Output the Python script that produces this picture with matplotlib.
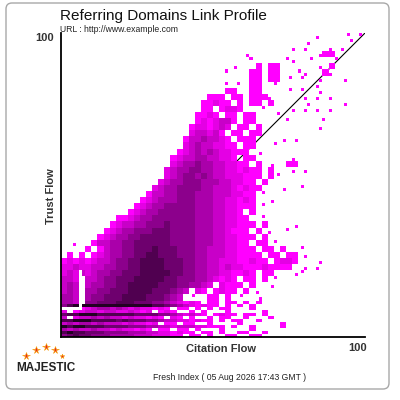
import numpy as np
import matplotlib
matplotlib.use('Agg')
import matplotlib.pyplot as plt
from matplotlib.colors import ListedColormap, BoundaryNorm
from matplotlib.patches import FancyBboxPatch

plt.rcParams['font.family'] = ['Liberation Sans', 'DejaVu Sans']

# density level per cell: '.' = no domains, 1 = few (magenta) ... 8 = many (near black)
# every cell is 2 Citation Flow wide; rows given as (first column, cells)
# upper block: 2 Trust Flow per row, from TF 98-100 down to TF 12-14
upper_rows = [
    (42, "1....1.1"),
    (40, "1......1"),
    (38, "1.1...1.1"),
    (30, "1...........111"),
    (31, "1.....11..1...1"),
    (28, "1...1.11......1.1"),
    (27, "1...11.11...11..11"),
    (31, "11.11.1.1..1...1"),
    (27, "1.1.11..1......1"),
    (27, "11..11....1.1..1"),
    (24, "111.11.1111.....1.1.1"),
    (23, "11211.1.11.1.....1.....1"),
    (23, "11.1221...1....1.1.1.1"),
    (22, "1121.11.11...1"),
    (22, "1212331.11.....1.....1"),
    (21, "1221232.11.1.........1"),
    (21, "233231.11.11"),
    (20, "13343321.111....1.1"),
    (20, "234332211.11...1"),
    (19, "123434322111.1"),
    (18, "12334433221.11......1"),
    (18, "2344544332211.1.1..11"),
    (17, "2344554433221211.1...1.1"),
    (17, "2345545433222111.11"),
    (16, "2344555444332211.1"),
    (15, "234455554433321211...1..1"),
    (14, "133445554443332211.1"),
    (13, "1234445554443322121..1"),
    (12, "12344555554443322111.1"),
    (11, "1234455555544433221.1"),
    (9, "1123445555555444332211..1"),
    (8, "123344555655554443322111.1....1"),
    (7, "123445556665555444332111.1.1..1"),
    (6, "12344556666655554443322111.1"),
    (2, "1..13344556666665555444332211.11.1"),
    (4, "1.13445566676665554433322111.11.1..1"),
    (1, "1.1.1234455667766655544333221111.11.11.1"),
    (0, "1212123345566777766655443322211211.1221...1"),
    (0, "22322334455667777666554433232211121111..1.1"),
    (0, "23232344556667777766554433221121.11...11"),
    (0, "332.3345566677777665554432121.11.1.1"),
    (0, "343.344556677777666554432.2111.1..1"),
    (0, "343.44556667777666543.21.1211.1.1"),
    (0, "443.4556667777666543.1..11.1.1..1"),
]

# bottom block: 1 Trust Flow per row, from TF 11-12 down to TF 0-1
bottom_rows = [
    (0, "443.5566677766655432121.11.11.1.1"),
    (0, "57888888888888877654321211.1.1.1"),
    (0, "...123443432322121.11.1.1.11...1"),
    (0, "2.1233233223212.121..1.1...1.....1"),
    (0, "677888777777666655432321.1211.11.1"),
    (0, "3.233434332322121.21.1..1.11..1...1"),
    (0, "7788877776766655433221211.1.11..1"),
    (0, "3434434333232212.11.11..1....1......1"),
    (0, "878877766665554433233322111.1..1....1"),
    (0, "434334332322121.11.11.1...1....1"),
    (0, "7877666555544433221211.11.1..11..1"),
    (0, "56766555444433322211.11.1..11..11"),
]

# empty vertical strip near the axis: (CF, TF from, TF to)
blank_strip = (6, 9, 22)

palette = ['#ff00ff', '#e400e4', '#c800c8', '#aa00aa', '#8c008c', '#6e006e', '#500050', '#230023']

# coarse upper grid, row 0 = TF 98-100
coarse = np.full((len(upper_rows), 50), np.nan)
for i, (start, cells) in enumerate(upper_rows):
    for j, ch in enumerate(cells):
        if ch != '.':
            coarse[i, start + j] = int(ch)

# 1x1 grid indexed [TF, CF]
fine = np.full((100, 100), np.nan)
filled = ~np.isnan(np.pad(coarse, 1, constant_values=np.nan))
for i in range(coarse.shape[0]):
    tf0 = 98 - 2 * i
    for c in range(50):
        v = coarse[i, c]
        if np.isnan(v):
            continue
        neighbours = filled[i:i + 3, c:c + 3].sum() - 1
        if v == 1 and neighbours < 3:
            # lone magenta cell: a single domain point
            fine[tf0 + c % 2, 2 * c + i % 2] = v
        else:
            fine[tf0:tf0 + 2, 2 * c:2 * c + 2] = v

for i, (start, cells) in enumerate(bottom_rows):
    tf = 11 - i
    for j, ch in enumerate(cells):
        if ch != '.':
            c = start + j
            fine[tf, 2 * c:2 * c + 2] = int(ch)

fine[blank_strip[1]:blank_strip[2], blank_strip[0]] = np.nan

cmap = ListedColormap(palette)
norm = BoundaryNorm(np.arange(0.5, 9.5, 1), cmap.N)

fig = plt.figure(figsize=(4, 4), dpi=100)
ax = fig.add_axes([61 / 400, 63 / 400, 304 / 400, 304 / 400])

edges = np.arange(0, 101)
ax.pcolormesh(edges, edges, np.ma.masked_invalid(fine), cmap=cmap, norm=norm, zorder=2)
ax.plot([0, 100], [0, 100], color='black', lw=0.8, zorder=1)

ax.set_xlim(0, 100)
ax.set_ylim(0, 100)
ax.set_xticks([])
ax.set_yticks([])
for s in ['top', 'right']:
    ax.spines[s].set_visible(False)
for s in ['left', 'bottom']:
    ax.spines[s].set_linewidth(1.3)
    ax.spines[s].set_color('black')

# rounded frame
fig.add_artist(FancyBboxPatch((6 / 400, 11 / 400), 383 / 400, 386 / 400,
                              boxstyle='round,pad=0,rounding_size=0.015',
                              transform=fig.transFigure, fc='none',
                              ec='#a8a8a8', lw=1.0))

fig.text(60 / 400, 1 - 16 / 400, 'Referring Domains Link Profile', fontsize=11, va='center', color='#111')
fig.text(60 / 400, 1 - 30 / 400, 'URL : http://www.example.com', fontsize=6.2, va='center', color='#222')
fig.text(54 / 400, 1 - 38 / 400, '100', fontsize=8, weight='bold', ha='right', va='center', color='#333')
fig.text(51 / 400, 1 - 196 / 400, 'Trust Flow', fontsize=8, weight='bold', rotation=90,
         ha='center', va='center', color='#333')
fig.text(221 / 400, 1 - 349 / 400, 'Citation Flow', fontsize=8, weight='bold', ha='center', va='center', color='#333')
fig.text(367 / 400, 1 - 348 / 400, '100', fontsize=8, weight='bold', ha='right', va='center', color='#333')
fig.text(230 / 400, 1 - 377 / 400, 'Fresh Index ( 05 Aug 2026 17:43 GMT )', fontsize=6.2,
         ha='center', va='center', color='#222')
fig.text(46 / 400, 1 - 368 / 400, 'MAJESTIC', fontsize=8.5, weight='bold', ha='center', va='center', color='#222')

# logo stars
star_x = np.array([26, 36, 46, 55]) / 400
star_y = 1 - np.array([356, 350, 347, 350]) / 400
fig.add_artist(plt.Line2D(star_x, star_y, ls='none', marker='*', ms=5.5, mfc='#e8281e', mec='#f7a400', mew=0.4))
fig.add_artist(plt.Line2D([62 / 400], [1 - 356 / 400], ls='none', marker='*', ms=3.5, mfc='#e8281e', mec='#f7a400', mew=0.4))

fig.savefig('out.png', dpi=100)
